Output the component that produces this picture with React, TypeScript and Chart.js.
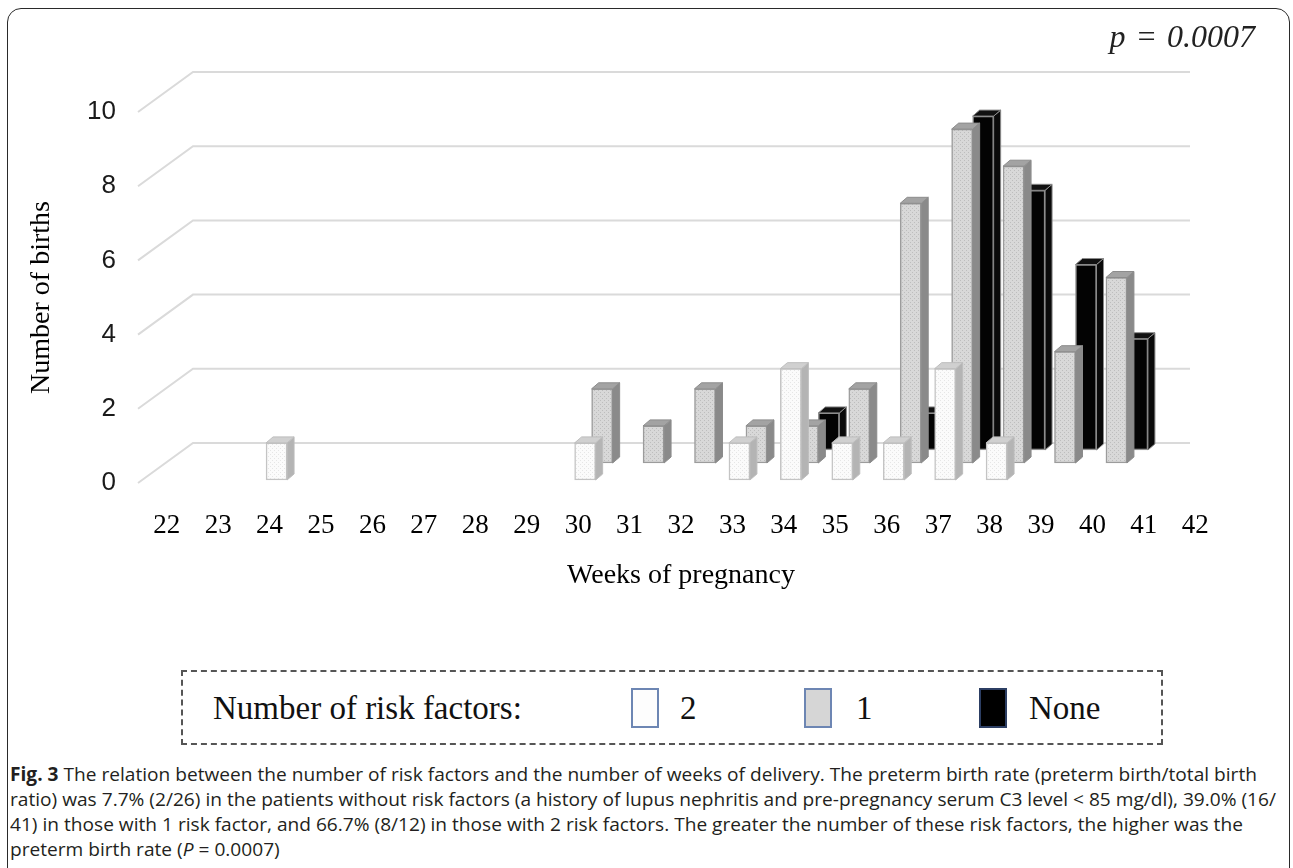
import React, { useEffect, useLayoutEffect, useRef } from 'react';
import { Chart, registerables } from 'chart.js';

Chart.register(...registerables);

// ---------- data ----------
const weeks = ['22', '23', '24', '25', '26', '27', '28', '29', '30', '31', '32', '33', '34', '35', '36', '37', '38', '39', '40', '41', '42'];
// number of births per week of delivery
const twoRiskFactors = [0, 0, 1, 0, 0, 0, 0, 0, 1, 0, 0, 1, 3, 1, 1, 3, 1, 0, 0, 0, 0];
const oneRiskFactor = [0, 0, 0, 0, 0, 0, 0, 0, 2, 1, 2, 1, 1, 2, 7, 9, 8, 3, 5, 0, 0];
const noRiskFactor = [0, 0, 0, 0, 0, 0, 0, 0, 0, 0, 0, 0, 1, 0, 1, 9, 7, 5, 3, 0, 0];
const yTicks = [0, 2, 4, 6, 8, 10];
const seriesNames = ['2', '1', 'None'];
const legendTitle = 'Number of risk factors:';
const xTitle = 'Weeks of pregnancy';
const yTitle = 'Number of births';
const pValueText = 'p = 0.0007';

// ---------- layout ----------
const CANVAS_W = 1293;
const CANVAS_H = 610;
const AREA = { left: 141, right: 1221, top: 112, bottom: 483 };
const FLOOR = { dx: 55, dy: 40 };
const WALL_RIGHT = 1190;
const BAR_DEPTH = { dx: 7, dy: 6 };
const BAR_W = 21;
// per series: horizontal shift of bar centre and its floor line (depth rows)
const rows = [
  { dx: 7, base: 480 },
  { dx: 24, base: 463 },
  { dx: 45, base: 450 },
];

function stipple(ctx: CanvasRenderingContext2D, bg: string, dot: string) {
  const c = document.createElement('canvas');
  c.width = 4;
  c.height = 4;
  const g = c.getContext('2d')!;
  g.fillStyle = bg;
  g.fillRect(0, 0, 4, 4);
  g.fillStyle = dot;
  g.fillRect(0, 0, 1, 1);
  g.fillRect(2, 2, 1, 1);
  return ctx.createPattern(c, 'repeat') as CanvasPattern;
}

const faceStyles = [
  { side: '#b4b4b4', top: '#d0d0d0', edge: '#bdbdbd' },
  { side: '#8a8a8a', top: '#a3a3a3', edge: '#8c8c8c' },
  { side: '#0a0a0a', top: '#111111', edge: '#8a8a8a' },
];

const gridPlugin = {
  id: 'wallGrid',
  beforeDatasetsDraw(chart: any) {
    const y = chart.scales.y;
    const { left } = chart.chartArea;
    const ctx = chart.ctx;
    ctx.save();
    ctx.strokeStyle = '#dadada';
    ctx.lineWidth = 2;
    y.ticks.forEach((t: any) => {
      const py = y.getPixelForValue(t.value);
      ctx.beginPath();
      ctx.moveTo(left - 3, py);
      ctx.lineTo(left - 3 + FLOOR.dx, py - FLOOR.dy);
      ctx.lineTo(WALL_RIGHT, py - FLOOR.dy);
      ctx.stroke();
    });
    ctx.restore();
  },
};

const bar3dPlugin = {
  id: 'bar3d',
  afterDatasetDraw(chart: any, args: any) {
    const ctx = chart.ctx;
    const st = faceStyles[args.index];
    const { dx, dy } = BAR_DEPTH;
    ctx.save();
    ctx.lineWidth = 1;
    args.meta.data.forEach((el: any) => {
      const { x, y, base, width } = el.getProps(['x', 'y', 'base', 'width'], true);
      const l = x - width / 2;
      const r = x + width / 2;
      const poly = (pts: number[][], fill: string) => {
        ctx.beginPath();
        ctx.moveTo(pts[0][0], pts[0][1]);
        for (let i = 1; i < pts.length; i++) ctx.lineTo(pts[i][0], pts[i][1]);
        ctx.closePath();
        ctx.fillStyle = fill;
        ctx.fill();
        ctx.strokeStyle = st.edge;
        ctx.stroke();
      };
      poly([[r, y], [r + dx, y - dy], [r + dx, base - dy], [r, base]], st.side);
      poly([[l, y], [l + dx, y - dy], [r + dx, y - dy], [r, y]], st.top);
    });
    ctx.restore();
  },
};

const captionTargets = [1263, 1266, 1250];

export default function App() {
  const canvasRef = useRef<HTMLCanvasElement | null>(null);
  const captionRef = useRef<HTMLDivElement | null>(null);

  useLayoutEffect(() => {
    const cap = captionRef.current;
    if (!cap) return;
    const lines = Array.from(cap.querySelectorAll('span.line')) as HTMLElement[];
    let k = Infinity;
    lines.forEach((ln, i) => {
      const w = ln.getBoundingClientRect().width;
      if (w > 0 && captionTargets[i]) k = Math.min(k, captionTargets[i] / w);
    });
    if (isFinite(k)) cap.style.transform = `scaleX(${k})`;
  }, []);

  useEffect(() => {
    const canvas = canvasRef.current!;
    const ctx = canvas.getContext('2d')!;
    const fills = [
      stipple(ctx, '#fbfbfb', '#e6e6e6'),
      stipple(ctx, '#d8d8d8', '#bdbdbd'),
      '#030303',
    ];
    const borders = ['#c4c4c4', '#9c9c9c', '#8f8f8f'];
    const series = [twoRiskFactors, oneRiskFactor, noRiskFactor];

    const step = (AREA.right - AREA.left) / weeks.length;
    const unit = (AREA.bottom - AREA.top) / yTicks[yTicks.length - 1];
    const firstWeek = Number(weeks[0]);
    const yMax = yTicks[yTicks.length - 1];

    const scales: any = {
      x: {
        type: 'category',
        offset: true,
        grid: { display: false },
        border: { display: false },
        ticks: { color: '#000', padding: 19, font: { family: 'Liberation Serif', size: 27 } },
        title: {
          display: true,
          text: xTitle,
          color: '#000',
          padding: { top: 0, bottom: 18 },
          font: { family: 'Liberation Serif', size: 28 },
        },
        afterFit: (s: any) => {
          s.height = CANVAS_H - AREA.bottom;
        },
      },
      y: {
        type: 'linear',
        min: yTicks[0],
        max: yMax,
        grid: { display: false, drawTicks: false },
        border: { display: false },
        ticks: {
          stepSize: yTicks[1] - yTicks[0],
          padding: 25,
          color: '#1a1a1a',
          font: { family: 'Liberation Sans', size: 26 },
        },
        title: {
          display: true,
          text: yTitle,
          color: '#000',
          padding: { top: 25, bottom: 0 },
          font: { family: 'Liberation Serif', size: 28 },
        },
        afterFit: (s: any) => {
          s.width = AREA.left;
        },
      },
    };

    const datasets = series.map((vals, i) => {
      const xMin = firstWeek - 0.5 - rows[i].dx / step;
      const yMin = -(AREA.bottom - rows[i].base) / unit;
      scales['x' + i] = { type: 'linear', axis: 'x', display: false, offset: false, min: xMin, max: xMin + weeks.length };
      scales['y' + i] = { type: 'linear', axis: 'y', display: false, min: yMin, max: yMin + yMax };
      return {
        label: seriesNames[i],
        data: vals
          .map((v, k) => (v > 0 ? { x: Number(weeks[k]), y: v } : null))
          .filter((d) => d !== null),
        xAxisID: 'x' + i,
        yAxisID: 'y' + i,
        backgroundColor: fills[i],
        borderColor: borders[i],
        borderWidth: 1.5,
        borderSkipped: false,
        barThickness: BAR_W,
        grouped: false,
        clip: false,
      };
    });

    const chart = new Chart(canvas, {
      type: 'bar',
      data: { labels: weeks, datasets: datasets as any },
      options: {
        responsive: false,
        animation: false,
        devicePixelRatio: 1,
        layout: {
          padding: { left: 0, top: AREA.top, right: CANVAS_W - AREA.right, bottom: 0 },
        },
        plugins: { legend: { display: false }, tooltip: { enabled: false }, title: { display: false } },
        scales,
      } as any,
      plugins: [gridPlugin, bar3dPlugin],
    });
    return () => chart.destroy();
  }, []);

  const swatch = (bg: string, border: string, left: number) => (
    <div
      style={{
        position: 'absolute',
        left,
        top: 688,
        width: 28,
        height: 40,
        background: bg,
        border: `2px solid ${border}`,
        boxSizing: 'border-box',
      }}
    />
  );
  const legendText = (text: string, left: number) => (
    <div
      style={{
        position: 'absolute',
        left,
        top: 688,
        height: 40,
        lineHeight: '40px',
        fontFamily: 'Liberation Serif',
        fontSize: 33,
        color: '#111',
        whiteSpace: 'nowrap',
      }}
    >
      {text}
    </div>
  );

  const capLine: React.CSSProperties = { display: 'inline-block', height: 25, lineHeight: '25px', whiteSpace: 'nowrap' };

  return (
    <div
      style={{
        position: 'absolute',
        left: 0,
        top: 0,
        width: CANVAS_W,
        height: 868,
        overflow: 'hidden',
        background: '#fff',
      }}
    >
      <div
        style={{
          position: 'absolute',
          left: 7,
          top: 8,
          width: 1283,
          height: 900,
          border: '1.5px solid #2a2a2a',
          borderRadius: 14,
          boxSizing: 'border-box',
        }}
      />
      <canvas
        ref={canvasRef}
        width={CANVAS_W}
        height={CANVAS_H}
        style={{ position: 'absolute', left: 0, top: 0, width: CANVAS_W, height: CANVAS_H }}
      />
      <div
        style={{
          position: 'absolute',
          right: 38,
          top: 16,
          fontFamily: 'Liberation Serif',
          fontStyle: 'italic',
          fontSize: 32,
          lineHeight: '40px',
          wordSpacing: 2,
          color: '#222',
          whiteSpace: 'nowrap',
        }}
      >
        {pValueText}
      </div>
      <div
        style={{
          position: 'absolute',
          left: 181,
          top: 670,
          width: 982,
          height: 75,
          border: '2px dashed #555',
          boxSizing: 'border-box',
        }}
      />
      {legendText(legendTitle, 213)}
      {swatch('#fdfdfd', '#6d86b3', 631)}
      {legendText(seriesNames[0], 680)}
      {swatch('#d6d6d6', '#6d86b3', 804)}
      {legendText(seriesNames[1], 856)}
      {swatch('#000', '#2c3e63', 979)}
      {legendText(seriesNames[2], 1029)}
      <div
        ref={captionRef}
        style={{
          position: 'absolute',
          left: 10,
          top: 762,
          transformOrigin: '0 0',
          fontFamily: '"Open Sans"',
          fontSize: 19,
          lineHeight: '25px',
          color: '#231f20',
        }}
      >
        <span className="line" style={capLine}>
          <b>Fig. 3</b> The relation between the number of risk factors and the number of weeks of delivery. The preterm birth rate (preterm birth/total birth
        </span>
        <br />
        <span className="line" style={capLine}>
          ratio) was 7.7% (2/26) in the patients without risk factors (a history of lupus nephritis and pre-pregnancy serum C3 level &lt; 85 mg/dl), 39.0% (16/
        </span>
        <br />
        <span className="line" style={capLine}>
          41) in those with 1 risk factor, and 66.7% (8/12) in those with 2 risk factors. The greater the number of these risk factors, the higher was the
        </span>
        <br />
        <span style={capLine}>
          preterm birth rate (<i>P</i> = 0.0007)
        </span>
      </div>
    </div>
  );
}
